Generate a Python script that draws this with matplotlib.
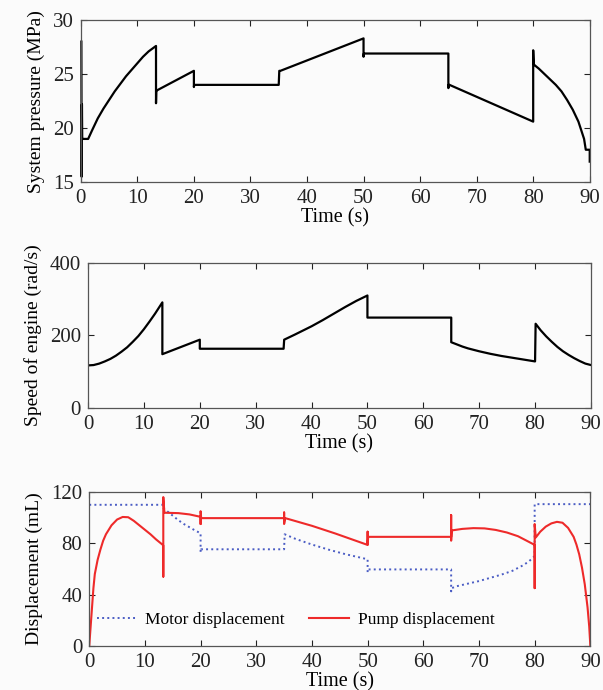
import numpy as np
import matplotlib
matplotlib.use('Agg')
import matplotlib.pyplot as plt

# System pressure (MPa)
t_press = [0.1, 0.15, 0.2, 0.25, 0.3, 1.3, 2, 3, 4, 5, 6, 7, 8, 9, 10, 11, 12, 13.3,
           13.3, 13.35, 13.5, 20, 20, 20.05, 20.2, 35, 35.1, 35.3, 50, 50, 50.05, 50.2,
           65, 65, 65.05, 65.2, 80, 80, 80.1, 80.3, 81, 82, 83, 84, 85, 86, 87, 88, 89, 89.3,
           90, 90]
p_press = [28.0, 15.5, 22.2, 19.0, 19.0, 19.0, 19.8, 20.9, 21.8, 22.6, 23.4, 24.1, 24.8, 25.4, 26.0,
           26.6, 27.1, 27.6,
           22.3, 23.5, 23.5, 25.3, 23.8, 24.0, 24.0, 24.0, 25.3, 25.3, 28.3, 26.6, 26.9, 26.9,
           26.9, 23.7, 24.0, 24.0, 20.6, 27.2, 25.9, 25.8, 25.5, 25.0, 24.5, 24.0, 23.4, 22.6,
           21.7, 20.6, 19.0, 18.0,
           18.0, 16.9]

# Speed of engine (rad/s)
t_speed = [0, 1, 2, 3, 4, 5, 6, 7, 8, 9, 10, 11, 12, 13.3, 13.3, 20, 20, 35, 35.1,
           37, 40, 42, 44, 46, 48, 50, 50, 65, 65, 66, 67, 68, 70, 72, 74, 76, 78, 80,
           80.1, 81, 82, 83, 84, 85, 86, 87, 88, 89, 90]
v_speed = [117, 118, 122, 128, 135, 144, 155, 167, 182, 198, 217, 238, 260, 291, 148, 188, 163, 163, 188,
           202, 225, 242, 260, 278, 295, 310, 249, 249, 181, 175, 169, 164, 156, 149, 143, 138, 133, 128,
           232, 214, 197, 182, 168, 156, 146, 137, 129, 122, 118]

# Motor displacement (mL)
t_motor = [0, 13.3, 13.35, 14, 15, 16, 17, 18, 19, 20, 20, 20.1, 35, 35.1, 37, 40, 43, 46, 50,
           50, 50.1, 65, 65, 65.1, 66, 68, 70, 72, 74, 76, 78, 79, 80, 80, 90]
d_motor = [110, 110, 107, 105, 101.5, 98, 95, 92.5, 90, 87.8, 73, 75.3, 75.3, 87, 83.5, 79, 75, 71.5, 67.5,
           57.5, 59.6, 59.6, 42.5, 45, 46.5, 48.5, 50.5, 53, 55.5, 58.5, 63, 66, 70, 110.5, 110.5]

# Pump displacement (mL)
t_pump = [0, 0.25, 0.5, 0.75, 1, 1.5, 2, 2.5, 3, 4, 5, 6, 7, 8, 9, 10, 11, 12, 13.3,
          13.3, 13.3, 13.5, 16, 18, 20, 20, 20, 20.1, 35, 35, 35, 35.2, 40, 44.2, 50,
          50, 50, 50.1, 65, 65, 65, 65.1, 67, 69, 71, 73, 75, 77, 79, 80,
          80, 80, 80.2, 81, 82, 83, 84, 85, 86, 87, 87.5, 88, 88.5, 89, 89.5, 89.8, 90]
d_pump = [0, 15, 30, 45, 56, 67, 75, 82, 87, 94, 98.5, 100.5, 100.3, 97.5, 94, 90.5, 87, 83, 78.4,
          54, 116, 103.8, 103.5, 102.5, 100.6, 95, 105, 99.6, 99.6, 104, 95, 99.6, 93.6, 87.6, 78.7,
          89, 79, 85, 85, 102, 82, 90, 91.2, 91.8, 91.6, 90.4, 88.4, 85.5, 81, 78.7,
          45, 95, 84.5, 89, 93, 95.5, 96.7, 96, 92, 85, 79, 71.4, 61, 48, 30, 15, 0]

time_ticks = [0, 10, 20, 30, 40, 50, 60, 70, 80, 90]

plt.rcParams['font.family'] = ['Liberation Serif', 'DejaVu Serif']
plt.rcParams['font.size'] = 13

bg = '#fbfbfb'
fig = plt.figure(figsize=(6.03, 6.9), dpi=100, facecolor=bg)


def style_axes(ax, ylim, yticks, ylabel):
    ax.set_facecolor(bg)
    ax.set_xlim(0, 90)
    ax.set_ylim(*ylim)
    ax.set_xticks(time_ticks)
    ax.set_yticks(yticks)
    ax.tick_params(direction='in', length=4, width=0.8, top=True, right=True,
                   labelsize=15, pad=5, colors='#222222')
    for s in ax.spines.values():
        s.set_color('#555555')
        s.set_linewidth(0.9)
    ax.set_xlabel('Time (s)', fontsize=14.5, labelpad=0)
    ax.set_ylabel(ylabel, fontsize=14, labelpad=6)


ax1 = fig.add_axes([0.134, 0.736, 0.844, 0.235])
ax1.plot(t_press, p_press, color='black', lw=1.6, clip_on=False)
style_axes(ax1, (15, 30), [15, 20, 25, 30], 'System pressure (MPa)')

ax2 = fig.add_axes([0.146, 0.409, 0.834, 0.210])
ax2.plot(t_speed, v_speed, color='black', lw=1.6)
style_axes(ax2, (0, 400), [0, 200, 400], 'Speed of engine (rad/s)')

ax3 = fig.add_axes([0.148, 0.064, 0.831, 0.223])
ax3.plot(t_motor, d_motor, color='#4a5cc4', lw=1.4, ls=':', label='Motor displacement')
ax3.plot(t_pump, d_pump, color='#ee2a2a', lw=1.5, label='Pump displacement')
style_axes(ax3, (0, 120), [0, 40, 80, 120], 'Displacement (mL)')
ax3.legend(loc='center', bbox_to_anchor=(0.412, 0.17), ncol=2, frameon=False,
           fontsize=12.5, handlelength=2.3, columnspacing=1.4, handletextpad=0.5)

fig.savefig('out.png', dpi=100, facecolor=bg)
